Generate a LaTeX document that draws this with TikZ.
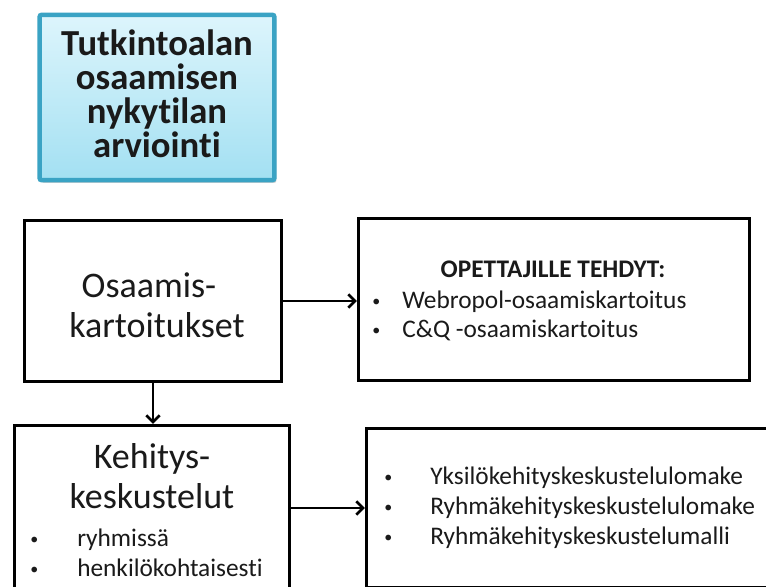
\documentclass[tikz,border=0pt]{standalone}
\usepackage{fontspec}
\setmainfont[Ligatures=NoCommon]{Carlito}
\usetikzlibrary{arrows.meta,shadows}
\definecolor{titlefillA}{HTML}{DDF5FC}
\definecolor{titlefillB}{HTML}{A3E0F2}
\definecolor{titleedge}{HTML}{3AA3C4}
\definecolor{ink}{HTML}{1A1A1A}
\newcommand{\dotmark}{{\fontsize{12pt}{12pt}\selectfont\raisebox{1.5pt}{•}}}
\tikzset{
  box/.style={draw=black, line width=2.3pt, fill=white, inner sep=0pt},
  titlebox/.style={draw=titleedge, line width=3.4pt, rounded corners=1.5pt,
    top color=titlefillA, bottom color=titlefillB, inner sep=0pt,
    drop shadow={opacity=0.35, shadow xshift=1.5pt, shadow yshift=-2pt}},
  bigtxt/.style={font=\fontsize{27pt}{31pt}\selectfont, text=ink, anchor=base, inner sep=0pt},
  titletxt/.style={font=\fontsize{27.5pt}{31pt}\selectfont\bfseries, text=ink, anchor=base, inner sep=0pt},
  listtxt/.style={font=\fontsize{19pt}{22.5pt}\selectfont, text=ink, anchor=base west, inner sep=0pt},
  headtxt/.style={font=\fontsize{19pt}{22.5pt}\selectfont\bfseries, text=ink, anchor=base, inner sep=0pt},
  link/.style={line width=2.1pt, -{Straight Barb[length=5pt,width=10pt,line width=2.1pt]}}
}
\begin{document}
\begin{tikzpicture}[x=0.75pt,y=-0.75pt]
\useasboundingbox (0,0) rectangle (766,586);
\clip (0,0) rectangle (766,586);
\fill[white] (0,0) rectangle (766,586);

% title box
\node[titlebox, minimum width=176pt, minimum height=124pt] (title) at (157,97.5) {};
\node[titletxt] (t1) at (157,55) {Tutkintoalan};
\node[titletxt] (t2) at (157,89) {osaamisen};
\node[titletxt] (t3) at (157,123) {nykytilan};
\node[titletxt] (t4) at (157,157) {arviointi};

% competence mapping
\node[box, minimum width=192.75pt, minimum height=120.75pt] (osa) at (153,301) {};
\node[bigtxt] (o1) at (149,297) {Osaamis-};
\node[bigtxt] (o2) at (157,337) {kartoitukset};

\node[box, minimum width=293.25pt, minimum height=121.5pt] (opt) at (554,299.5) {};
\node[headtxt] (h1) at (553,277) {OPETTAJILLE TEHDYT:};
\node[listtxt] (b1) at (372,308) {\dotmark};
\node[listtxt] (l1) at (402,308) {Webropol-osaamiskartoitus};
\node[listtxt] (b2) at (372,337) {\dotmark};
\node[listtxt] (l2) at (402,337) {C\&Q -osaamiskartoitus};

% development discussions
\node[box, minimum width=206.25pt, minimum height=123.75pt] (keh) at (152,508) {};
\node[bigtxt] (k1) at (152,468) {Kehitys-};
\node[bigtxt] (k2) at (152,508) {keskustelut};
\node[listtxt] (kb1) at (30,546) {\dotmark};
\node[listtxt] (kl1) at (77,546) {ryhmissä};
\node[listtxt] (kb2) at (30,576) {\dotmark};
\node[listtxt] (kl2) at (77,576) {henkilökohtaisesti};

\node[box, minimum width=324pt, minimum height=119.25pt] (frm) at (582.5,508) {};
\node[listtxt] (fb1) at (384,484) {\dotmark};
\node[listtxt] (fl1) at (430,484) {Yksilökehityskeskustelulomake};
\node[listtxt] (fb2) at (384,514) {\dotmark};
\node[listtxt] (fl2) at (430,514) {Ryhmäkehityskeskustelulomake};
\node[listtxt] (fb3) at (384,544) {\dotmark};
\node[listtxt] (fl3) at (430,544) {Ryhmäkehityskeskustelumalli};

% connectors
\draw[link] (osa.east) -- (osa.east -| opt.west);
\draw[link] (osa.south) -- (osa.south |- keh.north);
\draw[link] (keh.east) -- (keh.east -| frm.west);
\end{tikzpicture}
\end{document}
